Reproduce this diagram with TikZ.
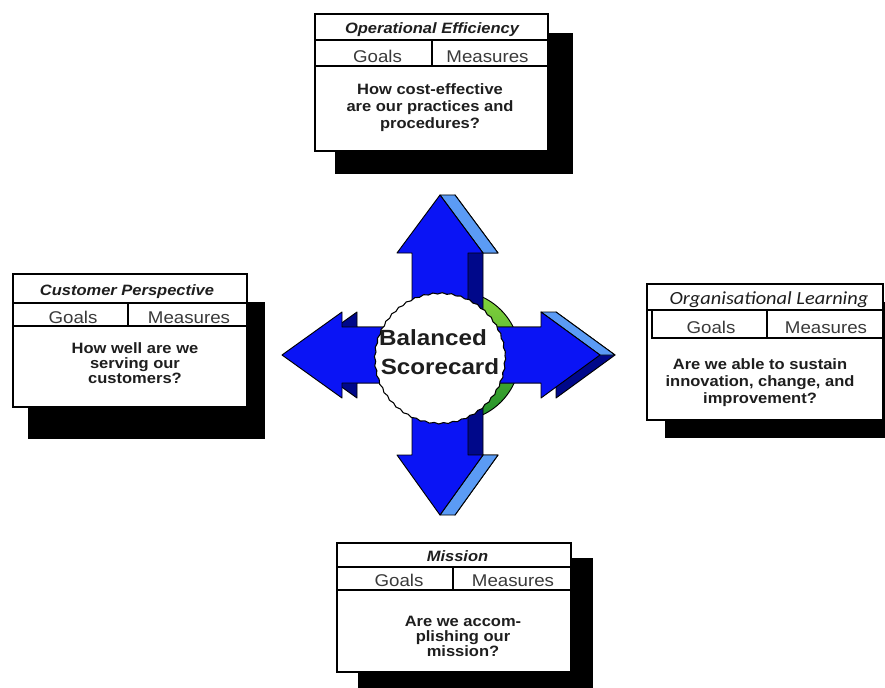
\documentclass[tikz,border=0pt]{standalone}
\usepackage{fontspec}
\setmainfont{Liberation Sans}
\newfontfamily\arialx{Liberation Sans}[FakeStretch=1.1]
\newfontfamily\calx{Carlito}[FakeStretch=1.1]
\usetikzlibrary{decorations.pathmorphing}
\definecolor{arrowblue}{HTML}{0A14F5}
\definecolor{bevel}{HTML}{5B9BF5}
\definecolor{navyside}{HTML}{00088A}
\definecolor{lightgreen}{HTML}{86D43C}
\definecolor{darkgreen}{HTML}{1F8F2A}
\definecolor{ink}{HTML}{1E1E1E}
\definecolor{softink}{HTML}{3A3A3A}
\begin{document}
\begin{tikzpicture}[x=0.75pt,y=-0.75pt,
  frame/.style={draw=black,line width=1.3pt,fill=white},
  rule/.style={draw=black,line width=1.1pt},
  shadowbox/.style={fill=black},
  titletext/.style={font=\arialx\bfseries\itshape\fontsize{11.25}{12}\selectfont,text=ink,anchor=base,inner sep=0pt},
  headtext/.style={font=\arialx\fontsize{12.75}{14}\selectfont,text=softink,anchor=base,inner sep=0pt},
  bodytext/.style={font=\arialx\bfseries\fontsize{11.25}{12}\selectfont,text=ink,anchor=base,inner sep=0pt},
  hubtext/.style={font=\arialx\bfseries\fontsize{16.5}{18}\selectfont,text=ink,anchor=base,inner sep=0pt},
  front/.style={fill=arrowblue,draw=black,line width=0.7pt,line join=round},
  back/.style={fill=navyside,draw=black,line width=0.7pt,line join=round},
  bevelface/.style={fill=bevel,draw=black,line width=0.7pt,line join=round}]

\useasboundingbox (0,0) rectangle (885,688);
\fill[white] (0,0) rectangle (885,688);

% ---------- perspective boxes ----------
% Operational Efficiency (top)
\fill[shadowbox] (335,33) rectangle (573,174);
\draw[frame] (315,14) rectangle (548,151);
\draw[rule] (315,40) -- (548,40) (315,66) -- (548,66) (432,40) -- (432,66);
\node[titletext] (opT) at (432,33.3) {Operational Efficiency};
\node[headtext] (opG) at (377.5,63) {Goals};
\node[headtext] (opM) at (487.5,63) {Measures};
\node[bodytext] (opB1) at (430,95) {How cost-effective};
\node[bodytext] (opB2) at (430,111.7) {are our practices and};
\node[bodytext] (opB3) at (430,128.3) {procedures?};

% Customer Perspective (left)
\fill[shadowbox] (28,302) rectangle (265,439);
\draw[frame] (13,274) rectangle (247,407);
\draw[rule] (13,303) -- (247,303) (13,326) -- (247,326) (128,303) -- (128,326);
\node[titletext] (cuT) at (127,295) {Customer Perspective};
\node[headtext] (cuG) at (73,323.3) {Goals};
\node[headtext] (cuM) at (189,323.3) {Measures};
\node[bodytext] (cuB1) at (135,353) {How well are we};
\node[bodytext] (cuB2) at (135,368) {serving our};
\node[bodytext] (cuB3) at (135,383) {customers?};

% Organisational Learning (right)
\fill[shadowbox] (665,302) rectangle (905,438);
\draw[frame] (647,284) rectangle (883,420);
\draw[rule] (647,310) -- (883,310);
\draw[rule] (652,310) rectangle (883,338);
\draw[rule] (767,310) -- (767,338);
\node[font=\calx\itshape\fontsize{13.9}{15}\selectfont,text=ink,anchor=base,inner sep=0pt] (orT) at (769,304) {Organisational Learning};
\node[headtext] (orG) at (711,333.3) {Goals};
\node[headtext] (orM) at (826,333.3) {Measures};
\node[bodytext] (orB1) at (760,369) {Are we able to sustain};
\node[bodytext] (orB2) at (760,386) {innovation, change, and};
\node[bodytext] (orB3) at (760,403) {improvement?};

% Mission (bottom)
\fill[shadowbox] (358,558) rectangle (593,700);
\draw[frame] (337,543) rectangle (571,672);
\draw[rule] (337,567) -- (571,567) (337,590) -- (571,590) (453,567) -- (453,590);
\node[titletext] (miT) at (457.5,561.7) {Mission};
\node[headtext] (miG) at (399,586.7) {Goals};
\node[headtext] (miM) at (513,586.7) {Measures};
\node[bodytext] (miB1) at (463,626.7) {Are we accom-};
\node[bodytext] (miB2) at (463,641.7) {plishing our};
\node[bodytext] (miB3) at (463,656.7) {mission?};

% ---------- central hub ----------
% side of the disc, seen on the right
\path[top color=lightgreen,bottom color=darkgreen,draw=black,line width=0.7pt] (455,356) circle (65);

% left arrow
\draw[back] (455,327) -- (357,327) -- (357,312) -- (297,355) -- (357,398) -- (357,383) -- (455,383) -- cycle;
\draw[front] (440,327) -- (342,327) -- (342,312) -- (282,355) -- (342,398) -- (342,383) -- (440,383) -- cycle;

% up arrow
\draw[back] (427,355) -- (427,253) -- (412,253) -- (455,195) -- (498,253) -- (483,253) -- (483,355) -- cycle;
\draw[bevelface] (440,195) -- (455,195) -- (498,253) -- (483,253) -- cycle;
\draw[front] (412,355) -- (412,253) -- (397,253) -- (440,195) -- (483,253) -- (468,253) -- (468,355) -- cycle;

% down arrow
\draw[back] (427,355) -- (427,455) -- (412,455) -- (455,515) -- (498,455) -- (483,455) -- (483,355) -- cycle;
\draw[bevelface] (483,455) -- (498,455) -- (455,515) -- (440,515) -- cycle;
\draw[front] (412,355) -- (412,455) -- (397,455) -- (440,515) -- (483,455) -- (468,455) -- (468,355) -- cycle;

% right arrow
\draw[back] (455,327) -- (556,327) -- (556,312) -- (615,355) -- (556,398) -- (556,383) -- (455,383) -- cycle;
\draw[bevelface] (541,312) -- (556,312) -- (615,355) -- (600,355) -- cycle;
\draw[front] (440,327) -- (541,327) -- (541,312) -- (600,355) -- (541,398) -- (541,383) -- (440,383) -- cycle;

% disc face
\draw[fill=white,draw=black,line width=0.8pt,decorate,decoration={snake,amplitude=0.5pt,segment length=7pt}] (440,356) circle (65);
\node[hubtext] (hub1) at (433,345) {Balanced};
\node[hubtext] (hub2) at (440,374) {Scorecard};
\end{tikzpicture}
\end{document}
